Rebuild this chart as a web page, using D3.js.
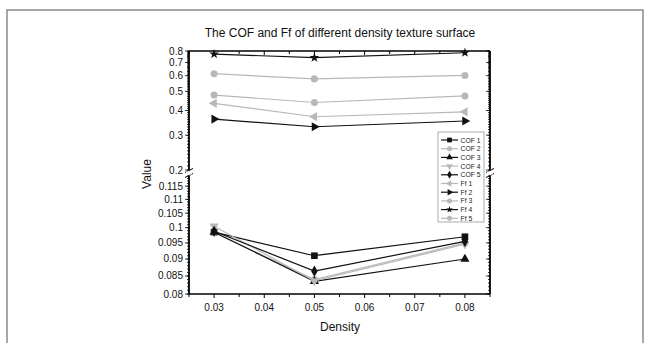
<!DOCTYPE html>
<html>
<head>
<meta charset="utf-8">
<script src="https://cdn.jsdelivr.net/npm/d3@7"></script>
<style>
  html, body { margin: 0; padding: 0; background: #fff; }
  svg { display: block; font-family: "Liberation Sans", Arial, sans-serif; }
</style>
</head>
<body>
<svg id="chart" width="650" height="343"></svg>
<script>
// Density values on the x axis
const densities = [0.03, 0.05, 0.08];

// Coefficient of friction (lower, broken-axis segment)
const cof1 = [0.0985, 0.0910, 0.0970];
const cof2 = [0.0984, 0.0840, 0.0950];
const cof3 = [0.0985, 0.0835, 0.0900];
const cof4 = [0.1005, 0.0836, 0.0946];
const cof5 = [0.0988, 0.0864, 0.0955];

// Friction force (upper segment)
const ff1 = [0.435, 0.372, 0.394];
const ff2 = [0.362, 0.331, 0.354];
const ff3 = [0.614, 0.578, 0.602];
const ff4 = [0.772, 0.740, 0.784];
const ff5 = [0.479, 0.439, 0.474];

const seriesNames = ["COF 1", "COF 2", "COF 3", "COF 4", "COF 5", "Ff 1", "Ff 2", "Ff 3", "Ff 4", "Ff 5"];
const seriesValues = [cof1, cof2, cof3, cof4, cof5, ff1, ff2, ff3, ff4, ff5];
const seriesSegment = ["low", "low", "low", "low", "low", "up", "up", "up", "up", "up"];

const xTicks = [0.03, 0.04, 0.05, 0.06, 0.07, 0.08];
const yTicksUpper = [0.2, 0.3, 0.4, 0.5, 0.6, 0.7, 0.8];
const yTicksLower = [0.08, 0.085, 0.09, 0.095, 0.1, 0.105, 0.11, 0.115];

const BLACK = "#111";
const GRAY = "#b8b8b8";
const styles = [
  { c: BLACK, m: "square" }, { c: GRAY, m: "circle" }, { c: BLACK, m: "triUp" },
  { c: GRAY, m: "triDown" }, { c: BLACK, m: "diamond" }, { c: GRAY, m: "triLeft" },
  { c: BLACK, m: "triRight" }, { c: GRAY, m: "circle" }, { c: BLACK, m: "star" },
  { c: GRAY, m: "circle" }
];

const svg = d3.select("#chart");

// outer frame
svg.append("rect").attr("x", 7).attr("y", 10).attr("width", 636).attr("height", 345)
  .attr("fill", "none").attr("stroke", "#8a8a8a").attr("stroke-width", 1.5);

const L = 189, R = 490, TOP = 51, BOT = 294;
const x = d3.scaleLinear().domain([0.025, 0.085]).range([L, R]);
const yUp = d3.scaleLog().domain([0.2, 0.8]).range([170, TOP]);
const yLow = d3.scaleLog().domain([0.08, 0.119]).range([BOT, 176]);
const yFor = s => s === "up" ? yUp : yLow;

// title
svg.append("text").attr("x", 340).attr("y", 37).attr("text-anchor", "middle")
  .attr("font-size", 12).attr("fill", "#111")
  .text("The COF and Ff of different density texture surface");

// top and bottom axes
const g = svg.append("g");
g.append("line").attr("x1", L).attr("x2", R).attr("y1", TOP).attr("y2", TOP)
  .attr("stroke", "#000").attr("stroke-width", 1.6);
g.append("line").attr("x1", L).attr("x2", R).attr("y1", BOT).attr("y2", BOT)
  .attr("stroke", "#000").attr("stroke-width", 1.6);

const xMinor = d3.range(0.025, 0.0851, 0.005);
xMinor.forEach(v => {
  const major = xTicks.some(t => Math.abs(t - v) < 1e-9);
  const len = major ? 4 : 3;
  g.append("line").attr("x1", x(v)).attr("x2", x(v)).attr("y1", BOT).attr("y2", BOT + len)
    .attr("stroke", "#000").attr("stroke-width", 1);
  g.append("line").attr("x1", x(v)).attr("x2", x(v)).attr("y1", TOP).attr("y2", TOP + len)
    .attr("stroke", "#000").attr("stroke-width", 1);
});
xTicks.forEach(v => {
  g.append("text").attr("x", x(v)).attr("y", 311).attr("text-anchor", "middle")
    .attr("font-size", 10).attr("fill", "#111").text(String(v));
});
svg.append("text").attr("x", 340).attr("y", 331).attr("text-anchor", "middle")
  .attr("font-size", 12).attr("fill", "#111").text("Density");

// left and right axes with a break between the two segments
const breakTop = 170, breakBot = 176;
[L, R].forEach(ax => {
  g.append("line").attr("x1", ax).attr("x2", ax).attr("y1", TOP).attr("y2", breakTop)
    .attr("stroke", "#000").attr("stroke-width", 1.8);
  g.append("line").attr("x1", ax).attr("x2", ax).attr("y1", breakBot).attr("y2", BOT)
    .attr("stroke", "#000").attr("stroke-width", 1.8);
  // break marks
  [breakTop + 0.5, breakBot - 0.5].forEach(by => {
    g.append("line").attr("x1", ax - 4).attr("x2", ax + 4).attr("y1", by + 2).attr("y2", by - 2)
      .attr("stroke", "#000").attr("stroke-width", 1);
  });
  g.append("rect").attr("x", ax - 3).attr("y", breakTop + 1.5).attr("width", 6).attr("height", breakBot - breakTop - 3)
    .attr("fill", "#fff");
});

function vTick(scale, v, len) {
  [L, R].forEach(ax => {
    g.append("line").attr("x1", ax).attr("x2", ax - len)
      .attr("y1", scale(v)).attr("y2", scale(v)).attr("stroke", "#000").attr("stroke-width", 0.8);
  });
}
d3.range(0.2, 0.8001, 0.01).forEach(v => vTick(yUp, v, 2));
yTicksUpper.forEach(v => vTick(yUp, v, 4));
d3.range(0.08, 0.1191, 0.001).forEach(v => vTick(yLow, v, 2));
yTicksLower.forEach(v => vTick(yLow, v, 4));

yTicksUpper.forEach(v => {
  g.append("text").attr("x", 183).attr("y", yUp(v) + 3.5).attr("text-anchor", "end")
    .attr("font-size", 10).attr("fill", "#111").text(String(v));
});
yTicksLower.forEach(v => {
  g.append("text").attr("x", 183).attr("y", yLow(v) + 3.5).attr("text-anchor", "end")
    .attr("font-size", 10).attr("fill", "#111").text(String(v));
});
svg.append("text").attr("transform", "translate(151,174) rotate(-90)").attr("text-anchor", "middle")
  .attr("font-size", 12).attr("fill", "#111").text("Value");

// marker shapes
function marker(sel, type, color, size) {
  const s = size;
  let p;
  switch (type) {
    case "square": p = d3.symbol(d3.symbolSquare, s * s * 0.9); break;
    case "circle": p = d3.symbol(d3.symbolCircle, s * s * 0.8); break;
    case "diamond": p = d3.symbol(d3.symbolDiamond, s * s * 0.75); break;
    case "star": p = d3.symbol(d3.symbolStar, s * s * 0.6); break;
    default: p = d3.symbol(d3.symbolTriangle, s * s * 0.75);
  }
  const rot = { triUp: 0, triDown: 180, triLeft: -90, triRight: 90 }[type] || 0;
  return sel.append("path").attr("d", p()).attr("fill", color)
    .attr("data-rot", rot);
}

// series lines and markers
const line = d3.line();
seriesValues.forEach((vals, i) => {
  const sc = yFor(seriesSegment[i]);
  const st = styles[i];
  const pts = vals.map((v, j) => [x(densities[j]), sc(v)]);
  svg.append("path").attr("d", line(pts)).attr("fill", "none")
    .attr("stroke", st.c).attr("stroke-width", 1.2);
  pts.forEach(pt => {
    const m = marker(svg, st.m, st.c, 7);
    m.attr("transform", `translate(${pt[0]},${pt[1]}) rotate(${m.attr("data-rot")})`);
  });
});

// legend
const lg = svg.append("g");
lg.append("rect").attr("x", 438).attr("y", 132).attr("width", 46).attr("height", 90)
  .attr("fill", "#fff").attr("stroke", "#999").attr("stroke-width", 0.8);
seriesNames.forEach((name, i) => {
  const yy = 140 + i * 8.7;
  const st = styles[i];
  lg.append("line").attr("x1", 441).attr("x2", 458).attr("y1", yy).attr("y2", yy)
    .attr("stroke", st.c).attr("stroke-width", 1.2);
  const m = marker(lg, st.m, st.c, 5);
  m.attr("transform", `translate(449.5,${yy}) rotate(${m.attr("data-rot")})`);
  lg.append("text").attr("x", 460.5).attr("y", yy + 2.5).attr("font-size", 6.8)
    .attr("fill", "#222").text(name);
});
</script>
</body>
</html>
